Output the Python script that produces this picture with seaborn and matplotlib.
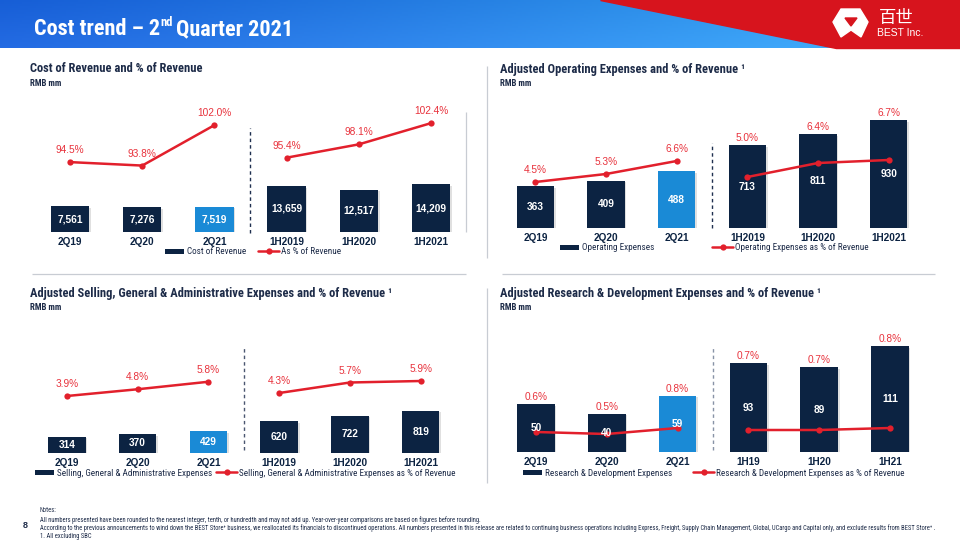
import numpy as np
import pandas as pd
import matplotlib
matplotlib.use("Agg")
import matplotlib.pyplot as plt
import seaborn as sns
from matplotlib import font_manager as fm
from matplotlib.patches import Patch, Polygon
from matplotlib.lines import Line2D
import matplotlib.patheffects as pe

# ---------------- data ----------------
periods = ["2Q19", "2Q20", "2Q21", "1H2019", "1H2020", "1H2021"]
periods_rd = ["2Q19", "2Q20", "2Q21", "1H19", "1H20", "1H21"]
cost_of_revenue = [7561, 7276, 7519, 13659, 12517, 14209]
cost_of_revenue_pct = [94.5, 93.8, 102.0, 95.4, 98.1, 102.4]
opex = [363, 409, 488, 713, 811, 930]
opex_pct = [4.5, 5.3, 6.6, 5.0, 6.4, 6.7]
sga = [314, 370, 429, 620, 722, 819]
sga_pct = [3.9, 4.8, 5.8, 4.3, 5.7, 5.9]
rnd = [50, 40, 59, 93, 89, 111]
rnd_pct = [0.6, 0.5, 0.8, 0.7, 0.7, 0.8]
segment = [0, 0, 0, 1, 1, 1]
highlight = "2Q21"

notes = [
    "Notes:",
    "All numbers presented have been rounded to the nearest integer, tenth, or hundredth and may not add up. "
    "Year-over-year comparisons are based on figures before rounding.",
    "According to the previous announcements to wind down the BEST Store\u207a business, we reallocated its financials "
    "to discontinued operations. All numbers presented in this release are related to continuing business operations "
    "including Express, Freight, Supply Chain Management, Global, UCargo and Capital only, and exclude results from BEST Store\u207a .",
    "1. All excluding SBC",
]

# ---------------- fonts ----------------
sns.set_theme(style="white")
ttf = fm.fontManager.ttflist
names = {f.name for f in ttf}
NUM = "Liberation Sans" if "Liberation Sans" in names else "DejaVu Sans"
NARROW, NSCALE = None, 1.0
for cand in ["Liberation Sans Narrow", "Roboto Condensed", "Open Sans Condensed",
             "Noto Sans Condensed", "DejaVu Sans Condensed"]:
    if cand in names:
        NARROW = cand
        break
if NARROW is None:
    NARROW, NSCALE = NUM, 0.84
plt.rcParams["font.family"] = [NUM, "DejaVu Sans"]
NF = [NARROW, "DejaVu Sans"]

NAVY = "#0c2342"
BLUE = "#1a8ad6"
RED = "#e2202c"
RED_TXT = "#e8323c"
GREY = "#c8ccd3"
TXT = "#1d2b48"

W, H = 960, 540
fig = plt.figure(figsize=(W / 100, H / 100), dpi=100)
fig.patch.set_facecolor("white")


def add_px_axes(x0, y0, x1, y1):
    return fig.add_axes([x0 / W, 1 - y1 / H, (x1 - x0) / W, (y1 - y0) / H])


panels = [
    dict(cats=periods, vals=cost_of_revenue, pcts=cost_of_revenue_pct,
         title="Cost of Revenue and % of Revenue", tx=30, ty=69,
         x0=34, x1=467, base=232, top=95, scale=0.003378, a=628, b=4.93,
         bar_lbl="Cost of Revenue", line_lbl="As % of Revenue",
         legy=252, legx=(165, 258), div=(128, 233), divc="#1f3050"),
    dict(cats=periods, vals=opex, pcts=opex_pct,
         title="Adjusted Operating Expenses and % of Revenue \u00b9", tx=500, ty=69,
         x0=500, x1=924, base=228, top=95, scale=0.116, a=227, b=10,
         bar_lbl="Operating Expenses", line_lbl="Operating Expenses as % of Revenue",
         legy=248, legx=(560, 712), div=(143, 228), divc="#1f3050"),
    dict(cats=periods, vals=sga, pcts=sga_pct,
         title="Adjusted Selling, General & Administrative Expenses and % of Revenue \u00b9", tx=30, ty=293,
         x0=31.6, x1=456, base=453, top=320, scale=0.0515, a=425.25, b=7.5,
         bar_lbl="Selling, General & Administrative Expenses",
         line_lbl="Selling, General & Administrative Expenses as % of Revenue",
         legy=473, legx=(35, 216), div=(346, 450), divc="#4a5670"),
    dict(cats=periods_rd, vals=rnd, pcts=rnd_pct,
         title="Adjusted Research & Development Expenses and % of Revenue \u00b9", tx=500, ty=293,
         x0=500.6, x1=925.4, base=452, top=320, scale=0.955, a=444, b=20,
         bar_lbl="Research & Development Expenses",
         line_lbl="Research & Development Expenses as % of Revenue",
         legy=473, legx=(523, 693), div=(346, 450), divc="#8893a6"),
]

for P in panels:
    ax = add_px_axes(P["x0"], P["top"], P["x1"], P["base"])
    df = pd.DataFrame({"period": P["cats"], "value": P["vals"], "pct": P["pcts"],
                       "pos": range(len(P["cats"])), "seg": segment})
    pal = {c: (BLUE if c == highlight else NAVY) for c in P["cats"]}
    sns.barplot(data=df, x="period", y="value", hue="period", palette=pal, legend=False,
                width=0.53, linewidth=0, saturation=1, ax=ax)
    for p in ax.patches:
        p.set_path_effects([pe.SimplePatchShadow(offset=(1.2, -1.2), alpha=0.18, shadow_rgbFace="#555555"),
                            pe.Normal()])
    ax.set_xlim(-0.5, 5.5)
    ax.set_ylim(0, (P["base"] - P["top"]) / P["scale"])
    ax.set_xlabel("")
    ax.set_ylabel("")
    ax.set_yticks([])
    sns.despine(ax=ax, left=True, bottom=True)
    ax.tick_params(axis="x", length=0, pad=3.5, labelsize=7.2, labelcolor=NAVY)
    for t in ax.get_xticklabels():
        t.set_fontweight("bold")
    ax.patch.set_alpha(0)
    fb = (P["base"] - P["div"][1]) / (P["base"] - P["top"])
    ft = (P["base"] - P["div"][0]) / (P["base"] - P["top"])
    ax.axvline(2.5, ymin=fb, ymax=ft, color=P["divc"], lw=1.0, ls=(0, (2.5, 2.2)), clip_on=False)

    ax2 = ax.twinx()
    sns.lineplot(data=df, x="pos", y="pct", units="seg", estimator=None, color=RED,
                 linewidth=1.8, marker="o", markersize=4.5, markeredgewidth=0, ax=ax2, legend=False)
    ax2.set_xlim(-0.5, 5.5)
    ax2.set_ylim((P["a"] - P["base"]) / P["b"], (P["a"] - P["top"]) / P["b"])
    ax2.axis("off")

    for i, (v, pc) in enumerate(zip(P["vals"], P["pcts"])):
        ax2.text(i, v / 2, f"{v:,}", transform=ax.transData, ha="center", va="center",
                 color="white", fontsize=7.3, fontweight="bold", family=NUM)
        yb = ax.transData.transform((i, v))[1] + 7
        yp = ax2.transData.transform((i, pc))[1] + 12
        ylab = ax2.transData.inverted().transform((0, max(yb, yp)))[1]
        ax2.text(i, ylab, f"{pc:.1f}%", ha="center", va="center", color=RED_TXT,
                 fontsize=7.3, family=NUM)

    h1 = Patch(facecolor=NAVY, edgecolor="none", label=P["bar_lbl"])
    h2 = Line2D([], [], color=RED, lw=1.8, marker="o", ms=4.5, mew=0, label=P["line_lbl"])
    common = dict(loc="center left", frameon=False, borderpad=0, borderaxespad=0,
                  handletextpad=0.25, prop=dict(family=NF, size=6.6 * NSCALE), labelcolor=TXT)
    fig.legend(handles=[h1], bbox_to_anchor=(P["legx"][0] / W, 1 - P["legy"] / H),
               handlelength=2.1, handleheight=0.5, **common)
    fig.legend(handles=[h2], bbox_to_anchor=(P["legx"][1] / W, 1 - P["legy"] / H),
               handlelength=2.3, **common)

# ---------------- overlay: header, titles, separators, notes ----------------
ov = fig.add_axes([0, 0, 1, 1], zorder=20)
xs = np.linspace(0, 1, 480)
ys = np.linspace(0, 1, 24)
c0 = np.array([0.09, 0.37, 0.84])
c1 = np.array([0.22, 0.66, 0.95])
grad = c0[None, None, :] + (c1 - c0)[None, None, :] * (xs[None, :, None] ** 1.1)
grad = np.clip(grad + 0.05 * ys[:, None, None], 0, 1)
ov.imshow(grad, extent=(0, W, 48, 0), aspect="auto", origin="upper", zorder=0)
ov.add_patch(Polygon([(600, 0), (W, 0), (W, 48), (836, 48)], closed=True, color="#d7141d", zorder=1))
# logo
ov.add_patch(Polygon([(841, 9), (860, 9), (868, 22), (861, 37), (851, 30), (841, 37), (833, 22)],
                     closed=True, color="white", zorder=2))
ov.add_patch(Polygon([(845, 18), (857, 18), (851, 26)], closed=True, color="#d7141d", zorder=3))
ov.text(879, 18, "百世", family=["Noto Sans CJK SC", "DejaVu Sans"], fontsize=12.5, color="white",
        va="center", ha="left", zorder=4)
ov.text(877, 33.5, "BEST Inc.", family=NUM, fontsize=7.5, color="white", va="center", ha="left", zorder=4)

renderer = fig.canvas.get_renderer()
ov.set_xlim(0, W)
ov.set_ylim(H, 0)
ov.axis("off")


def right_px(t):
    bb = t.get_window_extent(renderer)
    return ov.transData.inverted().transform((bb.x1, bb.y0))[0]


t1 = ov.text(34, 35, "Cost trend \u2013 2", family=NF, fontweight="bold", fontsize=16 * NSCALE,
             color="white", va="baseline", ha="left", zorder=5)
t2 = ov.text(right_px(t1) + 0.5, 26.5, "nd", family=NF, fontweight="bold", fontsize=9 * NSCALE,
             color="white", va="baseline", ha="left", zorder=5)
ov.text(right_px(t2) + 3, 35, "Quarter 2021", family=NF, fontweight="bold", fontsize=16 * NSCALE,
        color="white", va="baseline", ha="left", zorder=5)

for P in panels:
    ov.text(P["tx"], P["ty"], P["title"], family=NF, fontweight="bold", fontsize=9 * NSCALE,
            color=TXT, va="center", ha="left")
    ov.text(P["tx"], P["ty"] + 14, "RMB mm", family=NF, fontweight="bold", fontsize=6.3 * NSCALE,
            color=TXT, va="center", ha="left")

# separators
for xs_, ys_ in [([32, 466], [274, 274]), ([502, 935], [274, 274]),
                 ([466, 466], [112, 232]), ([487, 487], [66, 258]), ([487, 487], [288, 483])]:
    ov.plot(xs_, ys_, color=GREY, lw=0.9, solid_capstyle="butt")

# notes
for y, line in zip([511, 520, 528.5, 537], notes):
    ov.text(40, y, line, family=NF, fontsize=4.7 * NSCALE, color=TXT, va="center", ha="left")
ov.text(23, 526, "8", family=NUM, fontweight="bold", fontsize=6.5, color=TXT, va="center", ha="left")

fig.savefig("out.png", dpi=100)
